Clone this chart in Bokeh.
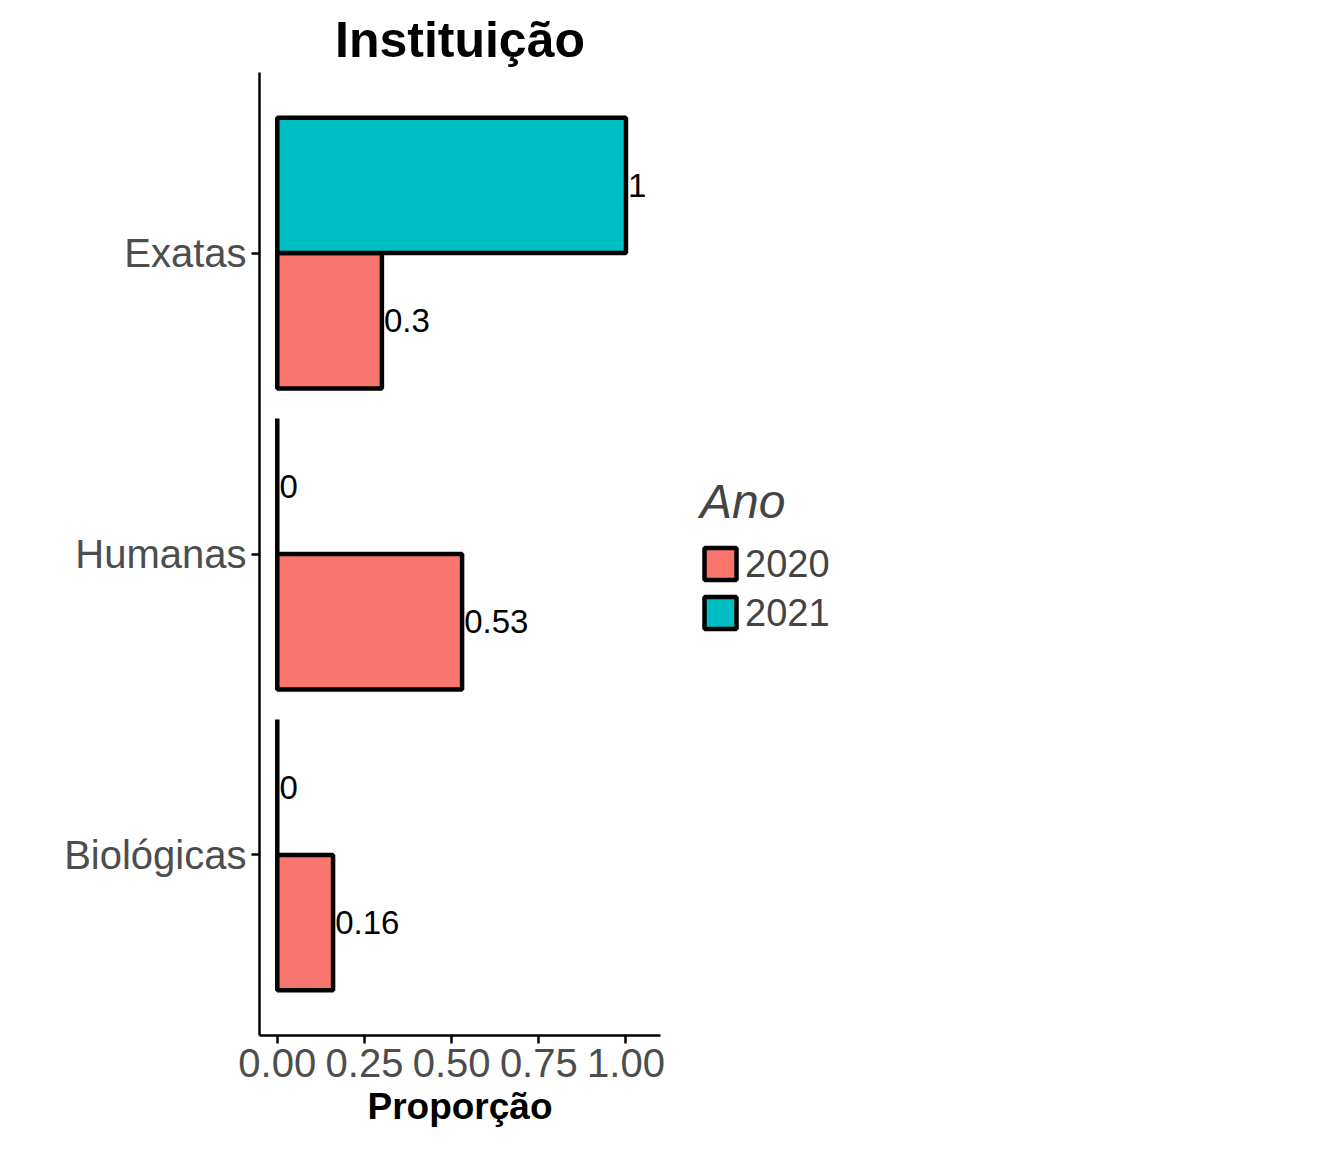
from bokeh.plotting import figure
from bokeh.models import Range1d, FixedTicker, Legend, LegendItem, ColumnDataSource
from bokeh.embed import file_html
from bokeh.resources import INLINE

categorias = ["Biológicas", "Humanas", "Exatas"]
valores_2020 = [0.16, 0.53, 0.30]
valores_2021 = [0.0, 0.0, 1.0]
rotulos_2020 = ["0.16", "0.53", "0.3"]
rotulos_2021 = ["0", "0", "1"]
cor_2020 = "#F8766D"
cor_2021 = "#00BFC4"

pos = list(range(1, len(categorias) + 1))
dodge = 0.225

p = figure(width=1330, height=1140, output_backend="svg", toolbar_location=None,
           x_range=Range1d(-0.051, 1.099), y_range=Range1d(0.4, 3.6),
           min_border_left=259, min_border_right=238, min_border_top=72, min_border_bottom=105)
p.title.text = "Instituição"
p.title.align = "center"
p.title.text_font = "Liberation Sans"
p.title.text_font_size = "50px"
p.title.text_font_style = "bold"
p.title.text_color = "black"

s20 = ColumnDataSource(dict(y=[v - dodge for v in pos], r=valores_2020, lab=rotulos_2020,
                            tx=[v + 0.006 for v in valores_2020]))
s21 = ColumnDataSource(dict(y=[v + dodge for v in pos], r=valores_2021, lab=rotulos_2021,
                            tx=[v + 0.006 for v in valores_2021]))
g20 = p.hbar(y="y", left=0, right="r", height=0.45, source=s20, fill_color=cor_2020,
             line_color="black", line_width=4.5)
g21 = p.hbar(y="y", left=0, right="r", height=0.45, source=s21, fill_color=cor_2021,
             line_color="black", line_width=4.5)
for s in (s20, s21):
    p.text(x="tx", y="y", text="lab", source=s, text_baseline="middle", text_align="left",
           text_font_size="33px", text_font={"value": "Liberation Sans"}, text_color="black")

p.grid.visible = False
p.outline_line_color = None
for ax in (p.xaxis, p.yaxis):
    ax.axis_line_width = 2.5
    ax.major_tick_line_width = 2.5
    ax.major_tick_out = 8
    ax.major_tick_in = 0
    ax.minor_tick_line_color = None
    ax.major_label_text_font = "Liberation Sans"
    ax.major_label_text_font_size = "40px"
    ax.major_label_text_color = "#4d4d4d"
p.xaxis.ticker = FixedTicker(ticks=[0, 0.25, 0.5, 0.75, 1.0])
p.xaxis.major_label_overrides = {0: "0.00", 0.25: "0.25", 0.5: "0.50", 0.75: "0.75", 1.0: "1.00"}
p.yaxis.ticker = FixedTicker(ticks=pos)
p.yaxis.major_label_overrides = {k: c for k, c in zip(pos, categorias)}
p.xaxis.axis_label = "Proporção"
p.xaxis.axis_label_text_font = "Liberation Sans"
p.xaxis.axis_label_text_font_size = "37px"
p.xaxis.axis_label_text_font_style = "bold"
p.xaxis.axis_label_text_color = "black"
p.xaxis.axis_label_standoff = 6

leg = Legend(items=[LegendItem(label="2020", renderers=[g20]), LegendItem(label="2021", renderers=[g21])],
             location="left", title="Ano", title_text_font_size="48px",
             title_text_font="Liberation Sans", label_text_font="Liberation Sans",
             label_text_font_size="38px", glyph_width=40, glyph_height=40, spacing=6,
             background_fill_alpha=0, border_line_color=None, title_standoff=14,
             margin=40, padding=6)
p.add_layout(leg, "right")

open("out.html", "w").write(file_html(p, INLINE))
